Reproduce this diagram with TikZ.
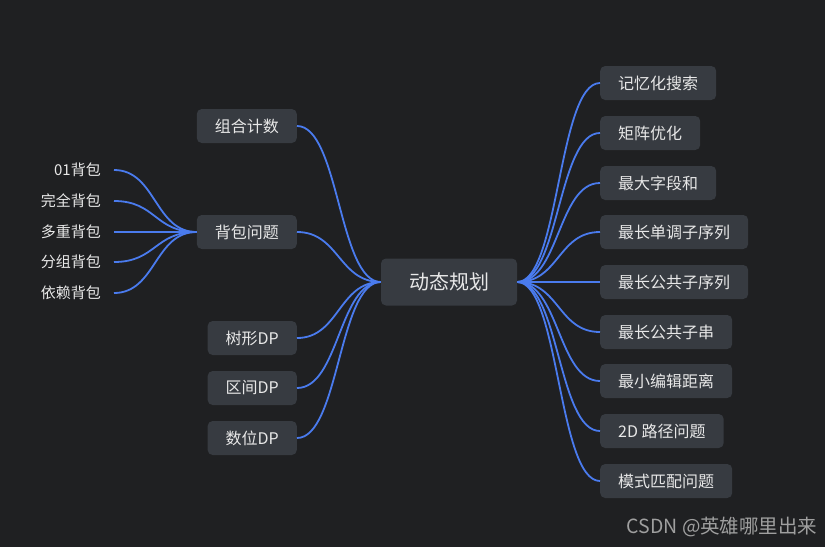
\documentclass[tikz,border=0pt]{standalone}
\usepackage{fontspec}
\setmainfont{Noto Sans CJK SC}
\usepackage{xcolor}
\usepackage{tikz}
\usetikzlibrary{positioning}

\definecolor{bgdark}{HTML}{1F2022}
\definecolor{boxgray}{HTML}{373B41}
\definecolor{linkblue}{HTML}{4A7BEE}
\definecolor{txtlight}{HTML}{E8E8E8}

\begin{document}
\begin{tikzpicture}[
  x=1pt, y=-1pt,
  root/.style={fill=boxgray, rounded corners=5pt, text=txtlight, inner xsep=28pt,
    minimum height=47pt, font=\fontsize{20}{24}\selectfont},
  topic/.style={fill=boxgray, rounded corners=5pt, text=txtlight, inner xsep=18pt,
    minimum height=34pt, font=\fontsize{16}{19}\selectfont},
  leaf/.style={text=txtlight, anchor=east, inner xsep=13pt, font=\fontsize{15}{18}\selectfont},
  link/.style={draw=linkblue, line width=1.8pt}
]
  \fill[bgdark] (0,0) rectangle (825,547);
  \useasboundingbox (0,0) rectangle (825,547);

  % ===== ROOT =====
  \node[root] (dp) at (449,282) {动态规划};

  % left topics
  \node[topic, anchor=east] (comb) at (297,126) {组合计数};
  \node[topic, anchor=east] (knap) at (297,232) {背包问题};
  \node[topic, anchor=east] (tree) at (297,338) {树形DP};
  \node[topic, anchor=east] (range) at (297,388) {区间DP};
  \node[topic, anchor=east] (digit) at (297,438) {数位DP};

  % knapsack leaves
  \node[leaf] (k01) at (114,170) {01背包};
  \node[leaf] (kfull) at (114,201) {完全背包};
  \node[leaf] (kmulti) at (114,232) {多重背包};
  \node[leaf] (kgroup) at (114,262) {分组背包};
  \node[leaf] (kdep) at (114,293) {依赖背包};

  % right topics
  \node[topic, anchor=west] (memo) at (600,83) {记忆化搜索};
  \node[topic, anchor=west] (matrix) at (600,133) {矩阵优化};
  \node[topic, anchor=west] (maxsum) at (600,183) {最大字段和};
  \node[topic, anchor=west] (lis) at (600,232) {最长单调子序列};
  \node[topic, anchor=west] (lcs) at (600,282) {最长公共子序列};
  \node[topic, anchor=west] (lcstr) at (600,332) {最长公共子串};
  \node[topic, anchor=west] (edit) at (600,381) {最小编辑距离};
  \node[topic, anchor=west] (path) at (600,431) {2D 路径问题};
  \node[topic, anchor=west] (match) at (600,481) {模式匹配问题};

  % ===== LINKS =====
  \draw[link] (dp.west) .. controls +(-42,0) and +(42,0) .. (comb.east);
  \draw[link] (dp.west) .. controls +(-42,0) and +(42,0) .. (knap.east);
  \draw[link] (dp.west) .. controls +(-42,0) and +(42,0) .. (tree.east);
  \draw[link] (dp.west) .. controls +(-42,0) and +(42,0) .. (range.east);
  \draw[link] (dp.west) .. controls +(-42,0) and +(42,0) .. (digit.east);

  \draw[link] (knap.west) .. controls +(-42,0) and +(42,0) .. (k01.east);
  \draw[link] (knap.west) .. controls +(-42,0) and +(42,0) .. (kfull.east);
  \draw[link] (knap.west) -- (kmulti.east);
  \draw[link] (knap.west) .. controls +(-42,0) and +(42,0) .. (kgroup.east);
  \draw[link] (knap.west) .. controls +(-42,0) and +(42,0) .. (kdep.east);

  \draw[link] (dp.east) .. controls +(42,0) and +(-42,0) .. (memo.west);
  \draw[link] (dp.east) .. controls +(42,0) and +(-42,0) .. (matrix.west);
  \draw[link] (dp.east) .. controls +(42,0) and +(-42,0) .. (maxsum.west);
  \draw[link] (dp.east) .. controls +(42,0) and +(-42,0) .. (lis.west);
  \draw[link] (dp.east) -- (lcs.west);
  \draw[link] (dp.east) .. controls +(42,0) and +(-42,0) .. (lcstr.west);
  \draw[link] (dp.east) .. controls +(42,0) and +(-42,0) .. (edit.west);
  \draw[link] (dp.east) .. controls +(42,0) and +(-42,0) .. (path.west);
  \draw[link] (dp.east) .. controls +(42,0) and +(-42,0) .. (match.west);

  \node[anchor=east, text=gray!75, font=\fontsize{19.5}{23}\selectfont] (mark) at (821,527) {CSDN @英雄哪里出来};
\end{tikzpicture}
\end{document}
